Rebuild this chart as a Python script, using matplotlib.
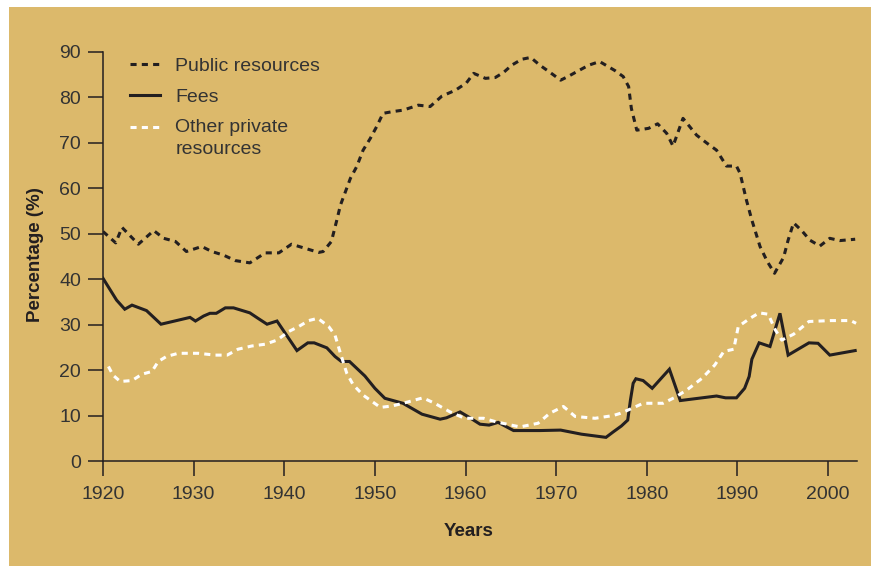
import matplotlib
matplotlib.use("Agg")
import numpy as np
import matplotlib.pyplot as plt
from matplotlib.lines import Line2D
from matplotlib.patches import Rectangle
from matplotlib.legend_handler import HandlerLine2D

plt.rcParams['font.family'] = ['Liberation Sans', 'DejaVu Sans']

# Public resources (%)
public_years = [1920, 1921.4, 1922.1, 1923.9, 1925.6, 1926.7, 1928, 1929.2, 1930.9, 1932,
                1933.3, 1934.6, 1936.2, 1937.9, 1939.4, 1940.8, 1942.3, 1943.8, 1944.3, 1945.2,
                1945.8, 1946.2, 1947.3, 1948, 1948.7, 1949.5, 1950.2, 1950.9, 1952, 1953.1,
                1954.8, 1956.1, 1957.4, 1958.9, 1960.1, 1960.9, 1962.2, 1963.3, 1964.2, 1965.1,
                1966.2, 1967.2, 1968.2, 1969.2, 1970.5, 1971.4, 1972.3, 1973.6, 1974.8, 1976.5,
                1977.4, 1978, 1978.3, 1978.9, 1980.2, 1981.2, 1982.2, 1982.9, 1984, 1985.5,
                1986.6, 1987.7, 1988.8, 1989.9, 1990.3, 1991, 1991.6, 1992.5, 1993.3, 1994.1,
                1995.1, 1995.6, 1996.2, 1997.1, 1998, 1999.1, 2000.2, 2001.3, 2003]
public_vals = [50.5, 48.0, 51.4, 47.7, 50.7, 49.0, 48.3, 46.1, 47.2, 46.1,
               45.3, 44.1, 43.6, 45.8, 45.8, 47.7, 46.8, 45.9, 46.1, 48.3,
               53.0, 56.3, 62.2, 64.8, 68.4, 71.0, 73.6, 76.5, 76.9, 77.2,
               78.3, 78.0, 80.3, 81.6, 83.2, 85.3, 84.2, 84.4, 85.5, 87.1,
               88.4, 88.8, 87.1, 85.7, 83.8, 84.7, 85.7, 87.1, 87.9, 85.9,
               84.6, 82.4, 77.6, 72.8, 73.2, 74.2, 72.1, 69.3, 75.4, 71.7,
               70.0, 68.4, 64.9, 64.9, 63.3, 57.4, 53.0, 47.2, 43.9, 41.3,
               44.8, 48.6, 52.4, 50.7, 48.6, 47.3, 49.0, 48.5, 48.8]

# Fees (%)
fees_years = [1920, 1921.5, 1922.4, 1923.2, 1924.8, 1926.4, 1927.9, 1929.6, 1930.2, 1931.1,
              1931.8, 1932.5, 1933.5, 1934.4, 1936.2, 1937.1, 1938.1, 1939.2, 1941.4, 1942.6,
              1943.3, 1944.7, 1945.6, 1946.3, 1947.2, 1948.9, 1950, 1951.1, 1953.1, 1955.2,
              1957.2, 1957.9, 1959.4, 1960.5, 1961.6, 1962.6, 1963.6, 1965.3, 1968.2, 1970.5,
              1972.8, 1975.5, 1976.3, 1977.2, 1977.9, 1978.2, 1978.5, 1978.8, 1979.6, 1980.6,
              1982.5, 1983.7, 1987.7, 1988.7, 1989.9, 1990.8, 1991.3, 1991.6, 1992.4, 1993.6,
              1994.7, 1995.6, 1997.9, 1998.9, 2000.2, 2003]
fees_vals = [40.2, 35.4, 33.4, 34.3, 33.1, 30.1, 30.8, 31.6, 30.8, 31.9,
             32.5, 32.5, 33.7, 33.7, 32.6, 31.4, 30.1, 30.8, 24.3, 26.0,
             26.0, 24.9, 23.0, 21.9, 21.9, 18.7, 16.0, 13.8, 12.7, 10.3,
             9.2, 9.5, 10.8, 9.5, 8.1, 7.9, 8.5, 6.7, 6.7, 6.8,
             5.9, 5.2, 6.4, 7.7, 9.0, 13.4, 17.1, 18.1, 17.7, 16.0,
             20.2, 13.3, 14.3, 13.9, 13.9, 16.0, 18.6, 22.4, 26.0, 25.2,
             32.5, 23.3, 26.0, 25.9, 23.3, 24.3]

# Other private resources (%)
other_years = [1920.6, 1921.1, 1921.9, 1923.2, 1924.3, 1925.4, 1926.1, 1927, 1928.3, 1930.5,
               1932.4, 1933.7, 1934.9, 1936.4, 1937.9, 1939.2, 1940.5, 1941.6, 1942.7, 1943.7,
               1944.9, 1945.6, 1946.2, 1946.9, 1947.6, 1948.7, 1950.6, 1951.9, 1953.1, 1955.3,
               1956.6, 1958.3, 1959.9, 1962, 1963.4, 1966, 1968, 1969.3, 1970.8, 1972.1,
               1974.3, 1976.3, 1977.1, 1978.5, 1979.6, 1981.8, 1983.1, 1984.4, 1986.1, 1987.5,
               1988.5, 1989.6, 1990.1, 1991.4, 1992.4, 1993.4, 1994.2, 1994.9, 1996.2, 1997.9,
               2000.3, 2002.5, 2003.1]
other_vals = [20.8, 18.9, 17.5, 17.7, 19.1, 19.7, 21.9, 23.0, 23.7, 23.7,
              23.3, 23.3, 24.6, 25.3, 25.7, 26.6, 28.5, 29.6, 30.9, 31.4,
              29.6, 27.7, 23.7, 19.3, 16.8, 14.5, 11.8, 12.1, 12.7, 13.9,
              12.7, 10.8, 9.4, 9.4, 8.6, 7.5, 8.3, 10.5, 12.0, 9.8,
              9.4, 10.0, 10.5, 11.7, 12.7, 12.7, 14.0, 15.6, 18.2, 21.1,
              24.1, 24.6, 29.6, 31.4, 32.6, 32.3, 28.8, 26.6, 27.9, 30.7,
              30.9, 30.9, 30.3]

x_ticks = [1920, 1930, 1940, 1950, 1960, 1970, 1980, 1990, 2000]
y_ticks = [0, 10, 20, 30, 40, 50, 60, 70, 80, 90]

TAN = '#DCB96B'
INK = '#231F20'
TXT = '#333333'


# legend handle that sits next to the first line of a two-line label
class FirstLineHandler(HandlerLine2D):
    def __init__(self, shift, **kw):
        super().__init__(**kw)
        self.shift = shift

    def create_artists(self, legend, orig_handle, xdescent, ydescent, width, height,
                       fontsize, trans):
        artists = super().create_artists(legend, orig_handle, xdescent, ydescent, width,
                                         height, fontsize, trans)
        for a in artists:
            a.set_ydata(np.asarray(a.get_ydata()) + self.shift)
        return artists


fig = plt.figure(figsize=(8.71, 5.66), dpi=100, facecolor='white')
# tan panel behind everything, leaving a thin white strip on the left and top
fig.add_artist(Rectangle((9 / 871, 0), 1, (566 - 7) / 566, transform=fig.transFigure,
                         facecolor=TAN, edgecolor='none', zorder=-10))

ax = fig.add_axes([103 / 871, 105 / 566, 754 / 871, 409 / 566])
ax.set_facecolor(TAN)

dash = (0, (2.0, 1.7))
ax.plot(public_years, public_vals, color=INK, lw=2.2, linestyle=dash, dash_capstyle='butt')
ax.plot(fees_years, fees_vals, color=INK, lw=2.2, solid_joinstyle='miter')
ax.plot(other_years, other_vals, color='white', lw=2.2, linestyle=dash, dash_capstyle='butt')

ax.set_xlim(1920, 2003.2)
ax.set_ylim(0, 90)
ax.set_xticks(x_ticks)
ax.set_yticks(y_ticks)

for side in ['top', 'right']:
    ax.spines[side].set_visible(False)
for side in ['left', 'bottom']:
    ax.spines[side].set_color(INK)
    ax.spines[side].set_linewidth(1.1)

ax.tick_params(axis='both', length=10.8, width=1.1, color=INK, labelsize=14,
               labelcolor=TXT)
ax.tick_params(axis='x', pad=7)
ax.tick_params(axis='y', pad=5)

ax.set_xlabel('Years', fontsize=13.5, fontweight='bold', color=INK)
ax.xaxis.set_label_coords(0.485, -0.152)
ax.set_ylabel('Percentage (%)', fontsize=13.5, fontweight='bold', color=INK)
ax.yaxis.set_label_coords(-0.078, 0.504)

h_public = Line2D([], [], color=INK, lw=2.2, linestyle=dash)
h_fees = Line2D([], [], color=INK, lw=2.2)
h_other = Line2D([], [], color='white', lw=2.2, linestyle=dash)
labels = ['Public resources', 'Fees', 'Other private\nresources']
leg = ax.legend([h_public, h_fees, h_other], labels, loc='upper left',
                bbox_to_anchor=(0.036, 0.988), frameon=False, fontsize=14,
                handlelength=1.55, handletextpad=0.77, labelspacing=0.7,
                borderpad=0, borderaxespad=0,
                handler_map={h_other: FirstLineHandler(shift=8.3)})
for t in leg.get_texts():
    t.set_color(TXT)
    t.set_linespacing(1.36)

fig.savefig('out.png', dpi=100, facecolor=fig.get_facecolor())
